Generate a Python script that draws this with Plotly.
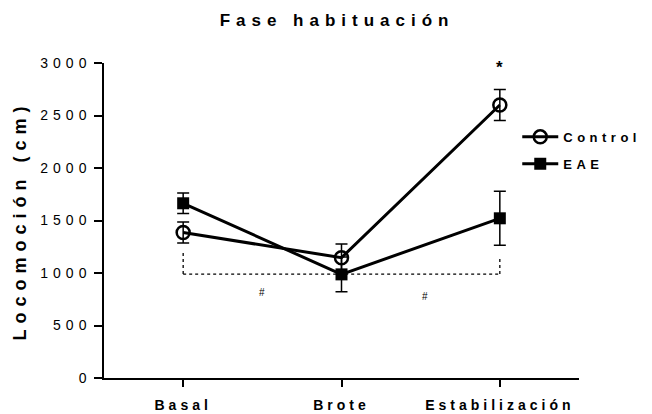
import plotly.graph_objects as go

categories = ["Basal", "Brote", "Estabilización"]
control_mean = [1385, 1146, 2600]
control_err = [100, 130, 147]
eae_mean = [1664, 987, 1521]
eae_err = [98, 165, 257]

# significance bracket (dotted) and markers
bracket_y = 990
bracket_left_top = 1215
bracket_right_top = 1155
hash_x = [0.5, 1.53]
hash_y = [810, 780]
star_x = 2
star_y = 2960

y_ticks = [0, 500, 1000, 1500, 2000, 2500, 3000]

FONT = "Liberation Sans, Arial, sans-serif"
xs = [0, 1, 2]

fig = go.Figure()
fig.add_trace(go.Scatter(
    x=xs, y=control_mean, name="<b>Control</b>", mode="lines+markers",
    line=dict(color="black", width=3),
    marker=dict(symbol="circle-open", size=13, color="black", line=dict(width=2.5, color="black")),
    error_y=dict(type="data", array=control_err, visible=True, color="black", thickness=1.5, width=6),
    legendgroup="a",
))
fig.add_trace(go.Scatter(
    x=xs, y=eae_mean, name="<b>EAE</b>", mode="lines+markers",
    line=dict(color="black", width=3),
    marker=dict(symbol="square", size=12, color="black"),
    error_y=dict(type="data", array=eae_err, visible=True, color="black", thickness=1.5, width=6),
    legendgroup="b",
))

dot = dict(color="black", width=1.3, dash="dot")
fig.add_shape(type="line", xref="x", yref="y", x0=xs[0], x1=xs[2], y0=bracket_y, y1=bracket_y, line=dot, layer="below")
fig.add_shape(type="line", xref="x", yref="y", x0=xs[0], x1=xs[0], y0=bracket_y, y1=bracket_left_top, line=dot, layer="below")
fig.add_shape(type="line", xref="x", yref="y", x0=xs[2], x1=xs[2], y0=bracket_y, y1=bracket_right_top, line=dot, layer="below")

for hx, hy in zip(hash_x, hash_y):
    fig.add_annotation(x=hx, y=hy, xref="x", yref="y", text="#", showarrow=False,
                       font=dict(family=FONT, size=10, color="black"))
fig.add_annotation(x=star_x, y=star_y, xref="x", yref="y", text="<b>*</b>", showarrow=False,
                   font=dict(family=FONT, size=17, color="black"))

fig.update_layout(
    width=652, height=414,
    margin=dict(l=104, r=73, t=63, b=36),
    paper_bgcolor="white", plot_bgcolor="white",
    font=dict(family=FONT, color="black"),
    title=dict(text="<b>Fase habituación</b>", x=0.517, xanchor="center", y=0.952, yanchor="middle",
               font=dict(family=FONT, size=17, color="black")),
    xaxis=dict(range=[-0.5, 2.5], tickmode="array", tickvals=xs, ticktext=["<b>%s</b>" % c for c in categories],
               showline=True, linecolor="black", linewidth=1.5, ticks="outside", ticklen=7, tickwidth=1.5,
               tickcolor="black", showgrid=False, zeroline=False, ticklabelstandoff=6, automargin=False,
               tickfont=dict(family=FONT, size=14, color="black")),
    yaxis=dict(range=[0, 3000], tickmode="array", tickvals=y_ticks,
               showline=True, linecolor="black", linewidth=1.5, ticks="outside", ticklen=8, tickwidth=1.5,
               tickcolor="black", showgrid=False, zeroline=False, ticklabelstandoff=0, automargin=False,
               tickfont=dict(family=FONT, size=14, color="black"),
               title=dict(text="<b>Locomoción (cm)</b>", font=dict(family=FONT, size=18, color="black"), standoff=29)),
    legend=dict(x=0.87, y=0.813, xanchor="left", yanchor="top", bgcolor="rgba(0,0,0,0)",
                font=dict(family=FONT, size=13, color="black"), tracegroupgap=7, itemwidth=36),
    showlegend=True,
)

post = """
document.body.style.margin='0';
var s = function(){
 document.querySelectorAll('.gtitle').forEach(function(e){e.style.letterSpacing='6px';});
 document.querySelectorAll('.xtick text').forEach(function(e){e.style.letterSpacing='4px';});
 document.querySelectorAll('.ytick text').forEach(function(e){e.style.letterSpacing='5px';});
 document.querySelectorAll('.ytitle').forEach(function(e){e.style.letterSpacing='6px';});
 document.querySelectorAll('.legendtext').forEach(function(e){e.style.letterSpacing='4.5px';});
 document.querySelectorAll('.legend .scrollbox').forEach(function(e){e.removeAttribute('clip-path');});
 document.querySelectorAll('.legend').forEach(function(e){e.style.overflow='visible';});
};
s(); setTimeout(s, 50);
"""
fig.write_html("out.html", post_script=post, config={"displayModeBar": False})
